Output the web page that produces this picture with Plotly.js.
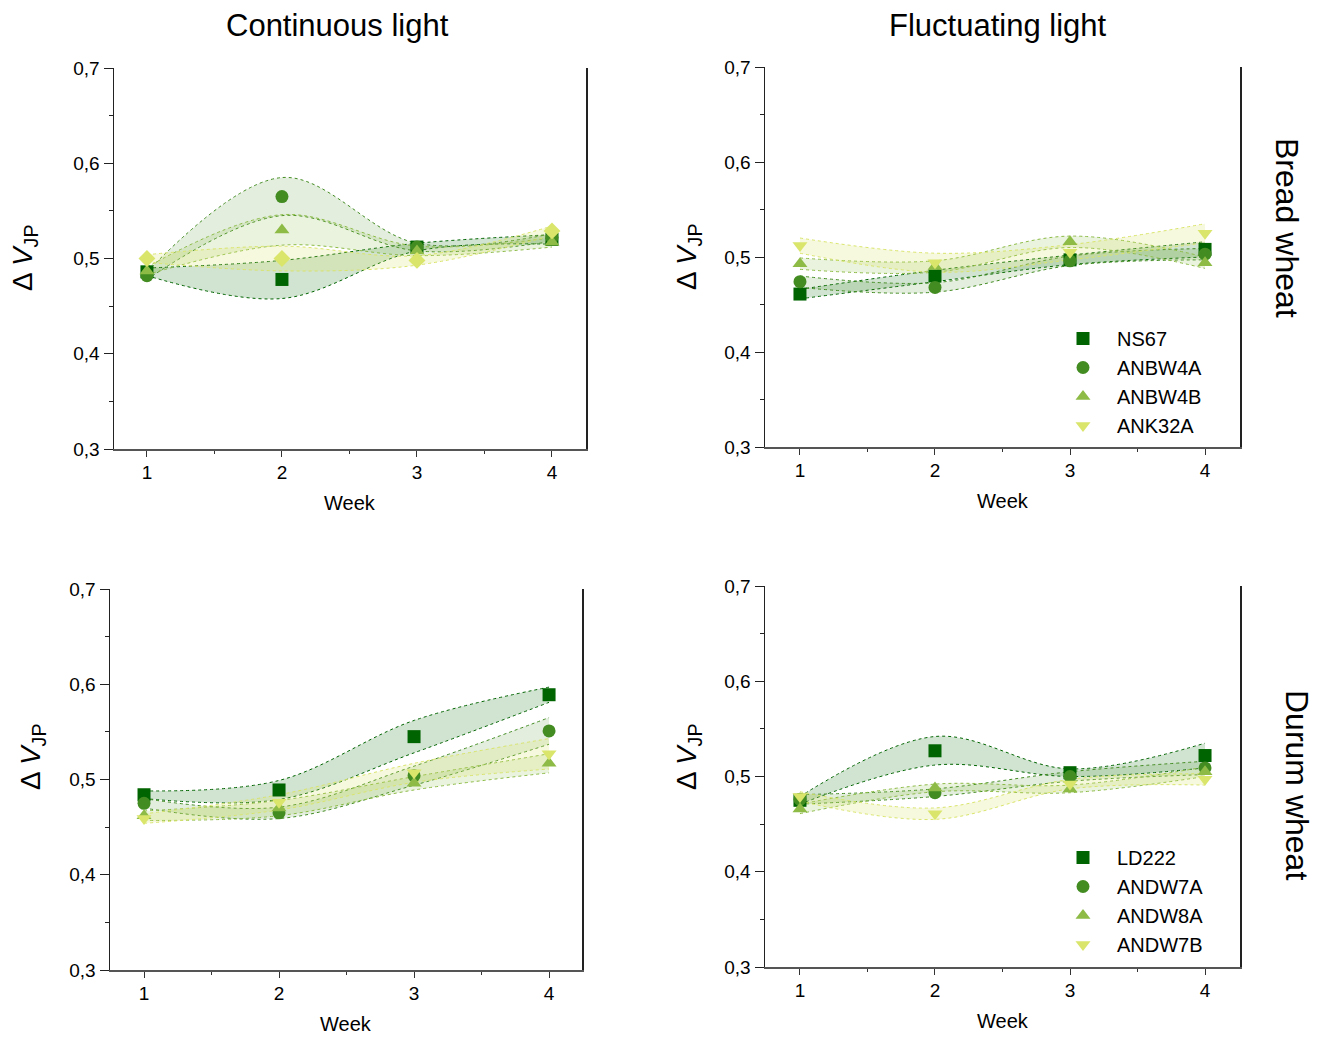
<!DOCTYPE html>
<html>
<head>
<meta charset="utf-8">
<script src="https://cdn.plot.ly/plotly-3.0.1.min.js"></script>
<style>body{margin:0;padding:0;background:#fff;} #chart{width:1323px;height:1037px;}</style>
</head>
<body>
<div id="chart"></div>
<script>
// ---- Data ----
const weeks = [1, 2, 3, 4];
const breadNames = ["NS67", "ANBW4A", "ANBW4B", "ANK32A"];
const durumNames = ["LD222", "ANDW7A", "ANDW8A", "ANDW7B"];

// Continuous light, bread wheat
const contBread = [
  [0.486, 0.478, 0.512, 0.520],
  [0.482, 0.565, 0.512, 0.522],
  [0.487, 0.530, 0.508, 0.517],
  [0.500, 0.500, 0.498, 0.529]
];
const contBreadErr = [
  [0.004, 0.020, 0.004, 0.005],
  [0.004, 0.020, 0.004, 0.004],
  [0.004, 0.016, 0.005, 0.005],
  [0.004, 0.013, 0.005, 0.005]
];
// Fluctuating light, bread wheat
const flucBread = [
  [0.461, 0.480, 0.497, 0.508],
  [0.474, 0.468, 0.496, 0.503],
  [0.493, 0.490, 0.516, 0.494],
  [0.512, 0.494, 0.505, 0.525]
];
const flucBreadErr = [
  [0.005, 0.006, 0.005, 0.008],
  [0.006, 0.005, 0.005, 0.006],
  [0.006, 0.006, 0.006, 0.006],
  [0.008, 0.010, 0.008, 0.010]
];
// Continuous light, durum wheat
const contDurum = [
  [0.484, 0.489, 0.545, 0.589],
  [0.475, 0.465, 0.504, 0.551],
  [0.462, 0.470, 0.496, 0.517],
  [0.459, 0.476, 0.507, 0.527]
];
const contDurumErr = [
  [0.004, 0.010, 0.017, 0.008],
  [0.005, 0.006, 0.010, 0.014],
  [0.005, 0.008, 0.007, 0.010],
  [0.005, 0.008, 0.010, 0.016]
];
// Fluctuating light, durum wheat
const flucDurum = [
  [0.475, 0.527, 0.504, 0.522],
  [0.476, 0.483, 0.500, 0.509],
  [0.466, 0.488, 0.487, 0.505],
  [0.479, 0.461, 0.492, 0.497]
];
const flucDurumErr = [
  [0.004, 0.015, 0.004, 0.013],
  [0.005, 0.004, 0.005, 0.007],
  [0.005, 0.004, 0.004, 0.005],
  [0.005, 0.006, 0.005, 0.006]
];

const panelTitles = ["Continuous light", "Fluctuating light"];
const rowTitles = ["Bread wheat", "Durum wheat"];

// ---- Styles ----
const colors = ["#006400", "#438c22", "#8dbb46", "#d9e56b"];
const fills = ["rgba(0,100,0,0.18)", "rgba(67,140,34,0.15)", "rgba(141,187,70,0.18)", "rgba(217,229,107,0.22)"];
const symbolsStd = ["square", "circle", "triangle-up", "triangle-down"];
const symbolsP1 = ["square", "circle", "triangle-up", "diamond"];
const FONT = "Liberation Sans, Arial, sans-serif";

const traces = [];
function addPanel(vals, errs, names, xa, ya, syms, legendId) {
  vals.forEach((v, i) => {
    const lo = v.map((d, k) => d - errs[i][k]);
    const hi = v.map((d, k) => d + errs[i][k]);
    traces.push({x: weeks, y: lo, xaxis: xa, yaxis: ya, mode: "lines", type: "scatter",
      line: {color: colors[i], width: 1, dash: "dot", shape: "spline", smoothing: 1},
      showlegend: false, hoverinfo: "skip"});
    traces.push({x: weeks, y: hi, xaxis: xa, yaxis: ya, mode: "lines", type: "scatter",
      line: {color: colors[i], width: 1, dash: "dot", shape: "spline", smoothing: 1},
      fill: "tonexty", fillcolor: fills[i], showlegend: false, hoverinfo: "skip"});
  });
  vals.forEach((v, i) => {
    const t = {x: weeks, y: v, xaxis: xa, yaxis: ya, mode: "markers", type: "scatter",
      name: names[i], marker: {symbol: syms[i], size: 13, color: colors[i]},
      showlegend: !!legendId};
    if (legendId) t.legend = legendId;
    traces.push(t);
  });
}
addPanel(contBread, contBreadErr, breadNames, "x", "y", symbolsP1, null);
addPanel(flucBread, flucBreadErr, breadNames, "x2", "y2", symbolsStd, "legend");
addPanel(contDurum, contDurumErr, durumNames, "x3", "y3", symbolsStd, null);
addPanel(flucDurum, flucDurumErr, durumNames, "x4", "y4", symbolsStd, "legend2");

const W = 1323, H = 1037;
function xd(a, b) { return [a / W, b / W]; }
function yd(top, bot) { return [1 - bot / H, 1 - top / H]; }

function xax(dom, rng, anchor) {
  return {domain: dom, range: rng, anchor: anchor, tickvals: weeks, ticktext: weeks.map(String),
    ticks: "outside", ticklen: 6, tickcolor: "#333", showline: true, linecolor: "#555", linewidth: 1.5,
    showgrid: false, zeroline: false, mirror: false,
    minor: {dtick: 0.5, tick0: 0.5, ticks: "outside", ticklen: 3, tickcolor: "#333", showgrid: false},
    tickfont: {family: FONT, size: 19, color: "#000"}};
}
function yax(dom, anchor) {
  return {domain: dom, range: [0.3, 0.7], anchor: anchor, dtick: 0.1, tick0: 0.3, tickformat: ".1f",
    ticks: "outside", ticklen: 9, tickcolor: "#222", showline: true, linecolor: "#222", linewidth: 1.5,
    mirror: true, showgrid: false, zeroline: false,
    minor: {dtick: 0.05, ticks: "outside", ticklen: 4, tickcolor: "#222", showgrid: false},
    tickfont: {family: FONT, size: 19, color: "#000"}};
}

const annotations = [];
function ann(text, x, y, size, angle) {
  annotations.push({text: text, x: x / W, y: 1 - y / H, xref: "paper", yref: "paper",
    showarrow: false, xanchor: "center", yanchor: "middle", textangle: angle || 0,
    font: {family: FONT, size: size, color: "#000"}});
}
ann(panelTitles[0], 337, 25, 31);
ann(panelTitles[1], 998, 25, 31);
ann(rowTitles[0], 1287, 228, 32, 90);
ann(rowTitles[1], 1297, 785, 32, 90);
const ytitle = "Δ <i>V</i><sub>JP</sub>";
ann(ytitle, 25, 258, 28, -90);
ann(ytitle, 688, 257, 28, -90);
ann(ytitle, 32, 757, 28, -90);
ann(ytitle, 688, 757, 28, -90);
ann("Week", 350, 503, 20);
ann("Week", 1003, 501, 20);
ann("Week", 346, 1024, 20);
ann("Week", 1003, 1021, 20);

const legendBase = {xanchor: "left", yanchor: "top", traceorder: "normal",
  font: {family: FONT, size: 20, color: "#000"}, bgcolor: "rgba(0,0,0,0)",
  itemwidth: 58, tracegroupgap: 0};

const layout = {
  width: W, height: H,
  margin: {l: 0, r: 0, t: 0, b: 0},
  paper_bgcolor: "#fff", plot_bgcolor: "rgba(0,0,0,0)",
  separators: ", ",
  font: {family: FONT, color: "#000"},
  xaxis: xax(xd(114, 586), [0.756, 4.252], "y"),
  yaxis: yax(yd(68, 449), "x"),
  xaxis2: xax(xd(765, 1240), [0.741, 4.259], "y2"),
  yaxis2: yax(yd(67, 447), "x2"),
  xaxis3: xax(xd(110, 582), [0.748, 4.244], "y3"),
  yaxis3: yax(yd(589, 970), "x3"),
  xaxis4: xax(xd(765, 1240), [0.741, 4.259], "y4"),
  yaxis4: yax(yd(586, 967), "x4"),
  legend: Object.assign({x: 1049 / W, y: 1 - 319 / H}, legendBase),
  legend2: Object.assign({x: 1049 / W, y: 1 - 838 / H}, legendBase),
  annotations: annotations,
  showlegend: true
};

Plotly.newPlot("chart", traces, layout, {displayModeBar: false, staticPlot: true});
</script>
</body>
</html>
